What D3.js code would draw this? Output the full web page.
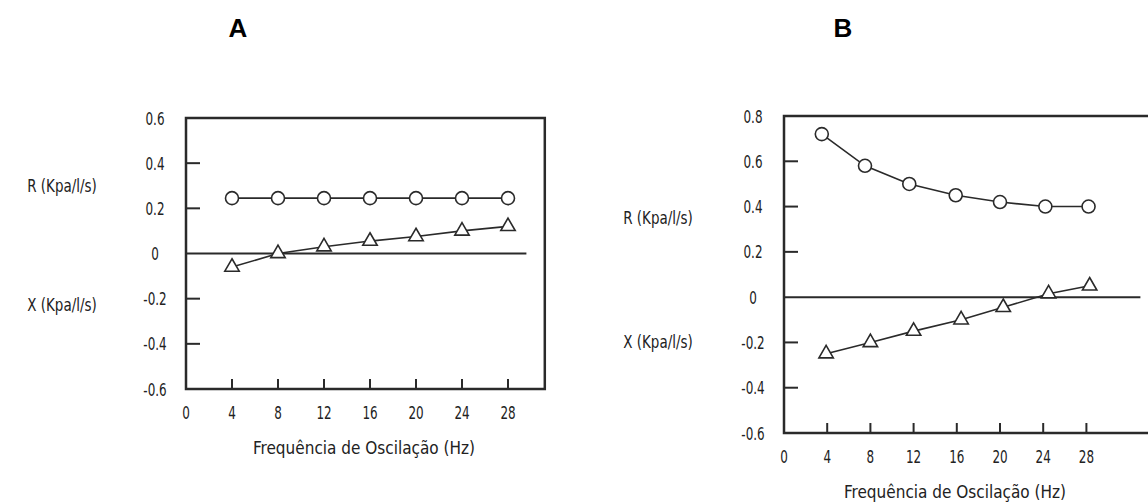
<!DOCTYPE html>
<html><head><meta charset="utf-8">
<script src="https://cdn.jsdelivr.net/npm/d3@7"></script>
<style>
html,body{margin:0;padding:0;background:#fff;}
svg{display:block;}
text{font-family:"DejaVu Sans Condensed","DejaVu Sans",sans-serif;fill:#222;}
</style></head>
<body>
<svg id="c" width="1148" height="503"></svg>
<script>
// ---- data ----
const panelTitles = ["A", "B"];
const freqTicks = [0, 4, 8, 12, 16, 20, 24, 28];
const aFreq = [4, 8, 12, 16, 20, 24, 28];
const aR = [0.245, 0.245, 0.245, 0.245, 0.245, 0.245, 0.245];
const aX = [-0.06, 0.0, 0.03, 0.055, 0.075, 0.10, 0.12];
const bFreqR = [3.5, 7.5, 11.6, 15.9, 20.0, 24.2, 28.2];
const bR = [0.72, 0.58, 0.50, 0.45, 0.42, 0.40, 0.40];
const bFreqX = [3.9, 8.0, 12.0, 16.4, 20.3, 24.5, 28.3];
const bX = [-0.25, -0.20, -0.15, -0.10, -0.045, 0.015, 0.05];
const aYTicks = [0.6, 0.4, 0.2, 0, -0.2, -0.4, -0.6];
const bYTicks = [0.8, 0.6, 0.4, 0.2, 0, -0.2, -0.4, -0.6];
const yLabelR = "R (Kpa/l/s)";
const yLabelX = "X (Kpa/l/s)";
const xTitle = "Frequência de Oscilação (Hz)";

const svg = d3.select("#c");

function panel(cfg) {
  const g = svg.append("g");
  const x = d3.scaleLinear().domain(cfg.xDomain).range([cfg.left, cfg.right]);
  const y = d3.scaleLinear().domain(cfg.yDomain).range([cfg.bottom, cfg.top]);
  const stroke = "#2a2a2a";

  // title
  g.append("text").attr("x", cfg.titleX).attr("y", 37).attr("text-anchor", "middle")
    .style("font-family", "'Liberation Sans',Arial,sans-serif").style("font-weight", "bold")
    .style("font-size", "26px").style("fill", "#000").text(cfg.title);

  // frame
  const fx0 = x(cfg.xDomain[0]), fx1 = x(cfg.xDomain[1]);
  const fy0 = y(cfg.yDomain[1]), fy1 = y(cfg.yDomain[0]);
  g.append("rect").attr("x", fx0).attr("y", fy0).attr("width", fx1 - fx0).attr("height", fy1 - fy0)
    .attr("fill", "none").attr("stroke", stroke).attr("stroke-width", 2.5);

  // zero line
  g.append("line").attr("x1", x(0)).attr("x2", x(cfg.zeroEnd)).attr("y1", y(0)).attr("y2", y(0))
    .attr("stroke", stroke).attr("stroke-width", 2);

  // y ticks (inward) and labels
  const yInner = cfg.yTicks.filter(v => v !== 0 && v !== cfg.yDomain[0] && v !== cfg.yDomain[1]);
  g.selectAll(".yt").data(yInner).enter().append("line")
    .attr("x1", fx0).attr("x2", fx0 + 14).attr("y1", d => y(d)).attr("y2", d => y(d))
    .attr("stroke", stroke).attr("stroke-width", 2);
  g.selectAll(".yl").data(cfg.yTicks).enter().append("text")
    .attr("transform", d => `translate(${fx0 - 31},${y(d) + 6.5}) scale(0.74,1)`)
    .attr("text-anchor", "middle")
    .style("font-size", "18px").text(d => d === 0 ? "0" : d3.format(".1f")(d).replace("−", "-"));

  // x ticks (inward) and labels
  g.selectAll(".xt").data(freqTicks.filter(d => d > 0)).enter().append("line")
    .attr("x1", d => x(d)).attr("x2", d => x(d)).attr("y1", fy1).attr("y2", fy1 - 10)
    .attr("stroke", stroke).attr("stroke-width", 2);
  g.selectAll(".xl").data(freqTicks).enter().append("text")
    .attr("transform", d => `translate(${x(d)},${fy1 + 30}) scale(0.74,1)`)
    .attr("text-anchor", "middle")
    .style("font-size", "18px").text(d => d);

  // axis titles
  g.append("text").attr("x", cfg.xTitleX).attr("y", fy1 + 65).attr("text-anchor", "middle")
    .style("font-size", "17px").text(xTitle);
  g.append("text").attr("transform", `translate(${cfg.yLabX},${y(cfg.rLabY) + 6}) scale(0.88,1)`)
    .attr("text-anchor", "middle").style("font-size", "17px").text(yLabelR);
  g.append("text").attr("transform", `translate(${cfg.yLabX},${y(cfg.xLabY) + 6}) scale(0.88,1)`)
    .attr("text-anchor", "middle").style("font-size", "17px").text(yLabelX);

  // series
  const line = d3.line().x(d => x(d[0])).y(d => y(d[1]));
  const rPts = cfg.rF.map((f, i) => [f, cfg.r[i]]);
  const xPts = cfg.xF.map((f, i) => [f, cfg.xv[i]]);
  g.append("path").attr("d", line(rPts)).attr("fill", "none").attr("stroke", stroke).attr("stroke-width", 1.6);
  g.append("path").attr("d", line(xPts)).attr("fill", "none").attr("stroke", stroke).attr("stroke-width", 1.6);
  g.selectAll(".c").data(rPts).enter().append("circle")
    .attr("cx", d => x(d[0])).attr("cy", d => y(d[1])).attr("r", 6.5)
    .attr("fill", "#fff").attr("stroke", stroke).attr("stroke-width", 1.6);
  const tri = d3.symbol().type(d3.symbolTriangle).size(90);
  g.selectAll(".t").data(xPts).enter().append("path")
    .attr("d", tri).attr("transform", d => `translate(${x(d[0])},${y(d[1])})`)
    .attr("fill", "#fff").attr("stroke", stroke).attr("stroke-width", 1.6);
}

panel({title: panelTitles[0], titleX: 238, xDomain: [0, 31.2], yDomain: [-0.6, 0.6],
  left: 186, right: 186 + 31.2 * 11.5, top: 118, bottom: 389, yTicks: aYTicks, zeroEnd: 29.6,
  rF: aFreq, r: aR, xF: aFreq, xv: aX, xTitleX: 364, yLabX: 62, rLabY: 0.3, xLabY: -0.23});
panel({title: panelTitles[1], titleX: 843, xDomain: [0, 34], yDomain: [-0.6, 0.8],
  left: 784, right: 784 + 34 * 10.8, top: 116, bottom: 433, yTicks: bYTicks, zeroEnd: 33,
  rF: bFreqR, r: bR, xF: bFreqX, xv: bX, xTitleX: 955, yLabX: 658, rLabY: 0.35, xLabY: -0.2});
</script>
</body></html>
